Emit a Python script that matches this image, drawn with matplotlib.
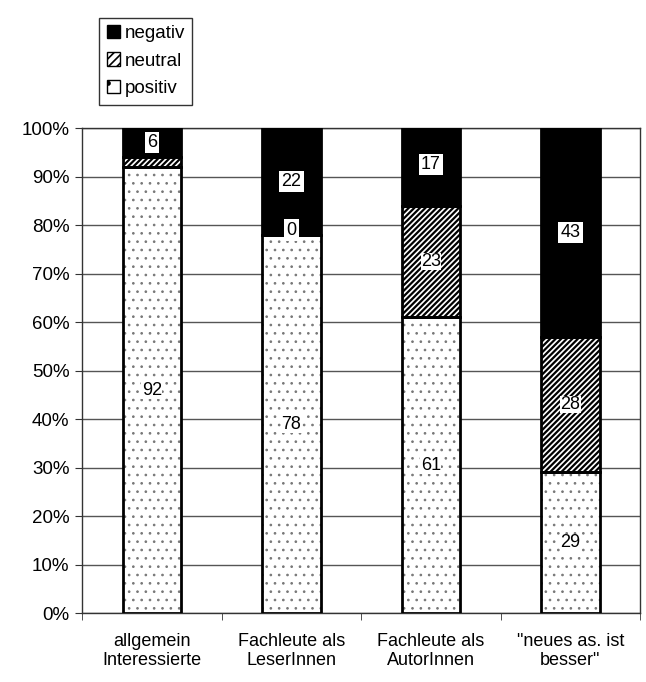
import numpy as np
import matplotlib
matplotlib.use("Agg")
import matplotlib.pyplot as plt
from matplotlib.patches import Patch

plt.rcParams['font.family'] = ['Liberation Sans', 'DejaVu Sans']

categories = ['allgemein\nInteressierte', 'Fachleute als\nLeserInnen',
              'Fachleute als\nAutorInnen', '"neues as. ist\nbesser"']
positiv = [92, 78, 61, 29]
neutral = [2, 0, 23, 28]
negativ = [6, 22, 17, 43]
yticks = [0, 10, 20, 30, 40, 50, 60, 70, 80, 90, 100]

fig = plt.figure(figsize=(6.46, 6.82), dpi=100)
ax = fig.add_axes([0.127, 0.101, 0.864, 0.711])

x = np.arange(len(categories))
w = 0.42
pos = np.array(positiv)
neu = np.array(neutral)
neg = np.array(negativ)

# fills (hatch drawn in edgecolor, so outline is drawn separately)
plt.rcParams['hatch.linewidth'] = 0.7
dots = ax.bar(x, pos, w, color='white', edgecolor='#777777', hatch='..',
              linewidth=0, zorder=3)
plt.rcParams['hatch.linewidth'] = 1.6
ax.bar(x, neu, w, bottom=pos, color='white', edgecolor='black', hatch='//////',
       linewidth=0, zorder=3)
ax.bar(x, neg, w, bottom=pos + neu, color='black', linewidth=0, zorder=3)
# outlines
ax.bar(x, pos, w, fill=False, edgecolor='black', linewidth=2, zorder=4)
ax.bar(x, neu, w, bottom=pos, fill=False, edgecolor='black', linewidth=2, zorder=4)
ax.bar(x, neg, w, bottom=pos + neu, fill=False, edgecolor='black', linewidth=2, zorder=4)

## labels
box = dict(facecolor='white', edgecolor='none', pad=1.5)
small = dict(facecolor='white', edgecolor='none', pad=0.3)
for i in range(len(x)):
    ax.text(x[i], pos[i] / 2, str(pos[i]), ha='center', va='center',
            fontsize=13, zorder=5, bbox=small)
    if neu[i] >= 5:
        ax.text(x[i], pos[i] + neu[i] / 2, str(neu[i]), ha='center', va='center',
                fontsize=13, zorder=5, bbox=small)
    elif neu[i] == 0:
        ax.text(x[i], pos[i] + 1, str(neu[i]), ha='center', va='center',
                fontsize=13, zorder=5, bbox=box)
    ax.text(x[i], pos[i] + neu[i] + neg[i] / 2, str(neg[i]), ha='center',
            va='center', fontsize=13, zorder=5, bbox=box)

ax.set_xlim(-0.5, len(x) - 0.5)
ax.set_ylim(0, 100)
ax.set_yticks(yticks)
ax.set_yticklabels([f'{v}%' for v in yticks], fontsize=13.5)
ax.set_xticks(x)
ax.set_xticklabels(categories, fontsize=13)
ax.set_xticks(np.arange(len(x) + 1) - 0.5, minor=True)
ax.tick_params(axis='x', which='major', length=0, pad=14)
ax.tick_params(axis='x', which='minor', length=5, color='#333333')
ax.tick_params(axis='y', length=5, color='#333333', pad=4)
ax.yaxis.grid(True, color='#555555', linewidth=1.0, zorder=0)
for s in ax.spines.values():
    s.set_color('#333333')
    s.set_linewidth(1.0)

plt.rcParams['hatch.linewidth'] = 1.2
handles = [Patch(facecolor='black', edgecolor='black', label='negativ'),
           Patch(facecolor='white', edgecolor='black', hatch='////', label='neutral'),
           Patch(facecolor='white', edgecolor='black', hatch='.', label='positiv')]
fig.legend(handles=handles, loc='upper left', bbox_to_anchor=(0.139, 0.988),
           fontsize=13.5, frameon=True, fancybox=False, edgecolor='black',
           handlelength=0.7, handleheight=0.7, handletextpad=0.25,
           labelspacing=0.55, borderpad=0.4)

fig.savefig('out.png', dpi=100)
